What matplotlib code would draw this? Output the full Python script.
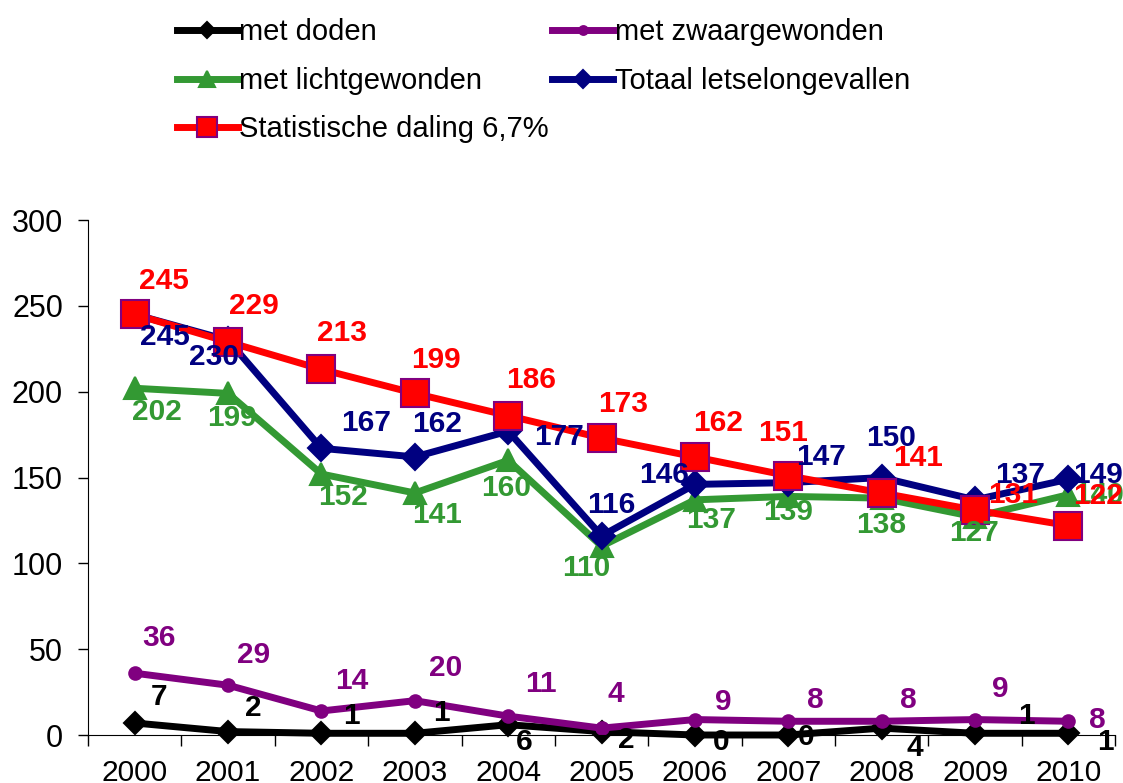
import matplotlib.pyplot as plt

plt.rcParams['font.family'] = ['Liberation Sans', 'DejaVu Sans']

years = ['2000', '2001', '2002', '2003', '2004', '2005', '2006', '2007', '2008', '2009', '2010']
doden = [7, 2, 1, 1, 6, 2, 0, 0, 4, 1, 1]
zwaar = [36, 29, 14, 20, 11, 4, 9, 8, 8, 9, 8]
licht = [202, 199, 152, 141, 160, 110, 137, 139, 138, 127, 140]
totaal = [245, 230, 167, 162, 177, 116, 146, 147, 150, 137, 149]
statistisch = [245, 229, 213, 199, 186, 173, 162, 151, 141, 131, 122]

# label offsets in pixels (dx right, dy down) -- hand placed like the excel original
off_doden = [(24, -26), (25, -24), (30, -17), (27, -20), (16, 17), (25, 8), (26, 7), (18, 2), (33, 20), (51, -17), (37, 9)]
off_zwaar = [(24, -35), (25, -30), (30, -30), (31, -33), (33, -32), (14, -34), (28, -18), (27, -21), (27, -21), (25, -31), (29, -1)]
off_licht = [(22, 24), (4, 25), (22, 23), (22, 22), (-2, 28), (-15, 22), (16, 20), (0, 16), (-1, 27), (-1, 16), (31, 0)]
off_totaal = [(30, 23), (-14, 17), (45, -25), (22, -33), (51, 6), (10, -31), (-31, -9), (33, -26), (9, -40), (45, -25), (30, -4)]
off_stat = [(29, -33), (26, -36), (21, -36), (21, -33), (23, -36), (22, -34), (23, -34), (-5, -43), (36, -35), (38, -15), (30, -30)]

fig = plt.figure(figsize=(11.23, 7.83), dpi=100)
ax = fig.add_axes([0.0784, 0.0613, 0.9146, 0.6577])
x = list(range(len(years)))

series = [
    ('met doden', doden, 'black', 'D', 11, 'black', off_doden),
    ('met zwaargewonden', zwaar, '#800080', 'o', 9, '#800080', off_zwaar),
    ('met lichtgewonden', licht, '#339933', '^', 16, '#339933', off_licht),
    ('Totaal letselongevallen', totaal, '#000080', 'D', 13, '#000080', off_totaal),
    ('Statistische daling 6,7%', statistisch, '#ff0000', 's', 20, '#800080', off_stat),
]

handles = {}
for name, vals, col, mk, ms, edge, offs in series:
    h, = ax.plot(x, vals, color=col, lw=5, marker=mk, ms=ms, mfc=col, mec=edge,
                 mew=1.5, clip_on=False, label=name)
    handles[name] = h
    for xi, v, (dx, dy) in zip(x, vals, offs):
        ax.annotate(str(v), (xi, v), xytext=(dx * 0.72, -dy * 0.72), textcoords='offset points',
                    ha='center', va='center', fontsize=21.5, fontweight='bold', color=col,
                    annotation_clip=False)

ax.set_xlim(-0.48, 10.5)
ax.set_ylim(0, 300)
ax.set_yticks(range(0, 301, 50))
ax.set_xticks(x)
ax.set_xticklabels(years)
ax.set_xticks([i - 0.5 for i in range(12)], minor=True)
ax.tick_params(axis='x', which='major', length=0, pad=17, labelsize=21.5)
ax.tick_params(axis='x', which='minor', length=8, width=1, direction='out')
ax.tick_params(axis='y', length=7, width=1, pad=11, labelsize=22)
for s in ['top', 'right']:
    ax.spines[s].set_visible(False)

order = ['met doden', 'met lichtgewonden', 'Statistische daling 6,7%', 'met zwaargewonden', 'Totaal letselongevallen']
fig.legend([handles[n] for n in order], order, loc='upper left', bbox_to_anchor=(0.134, 1.01),
           ncol=2, frameon=False, fontsize=21, handlelength=2.1, handletextpad=0.05,
           labelspacing=0.7, columnspacing=0.1, markerscale=0.7)

fig.savefig('out.png', dpi=100)
